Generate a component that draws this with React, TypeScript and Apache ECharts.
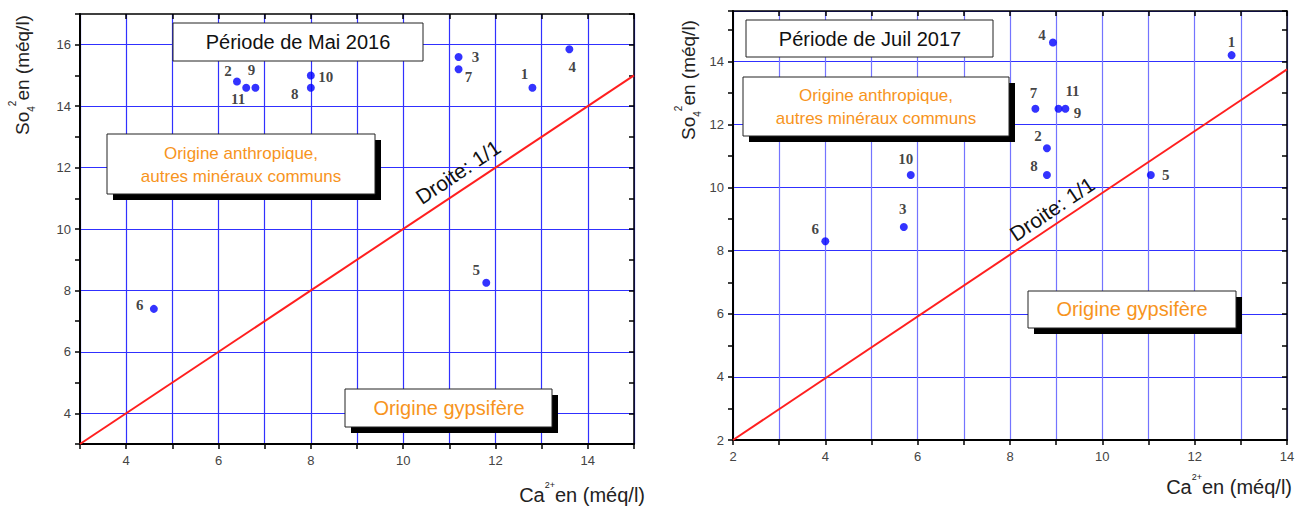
import React, { useEffect, useRef } from "react";
import * as echarts from "echarts";

// ---- data ----
const pointIds = ["1", "2", "3", "4", "5", "6", "7", "8", "9", "10", "11"];
const caMai2016 = [12.8, 6.4, 11.2, 13.6, 11.8, 4.6, 11.2, 8.0, 6.8, 8.0, 6.6];
const so4Mai2016 = [14.6, 14.8, 15.6, 15.85, 8.25, 7.4, 15.2, 14.6, 14.6, 15.0, 14.6];
const caJuil2017 = [12.8, 8.8, 5.7, 8.93, 11.05, 4.0, 8.55, 8.8, 9.2, 5.85, 9.05];
const so4Juil2017 = [14.2, 11.25, 8.75, 14.6, 10.4, 8.3, 12.5, 10.4, 12.5, 10.4, 12.5];
const droiteMai = [[3, 3], [15, 15]];
const droiteJuil = [[2, 2], [14, 13.75]];
const xRangeMai = [3, 15];
const yRangeMai = [3, 17];
const xRangeJuil = [2, 14];
const yRangeJuil = [2, 15.6];

// label placement (pixel offsets from point centres), kept apart from the data
const labelOffsetsMai = [[-8, -14], [-9, -11], [17, 0], [3, 18], [-10, -13], [-14, -4], [10, 8], [-16, 6], [-4, -18], [15, 2], [-8, 11]];
const labelOffsetsJuil = [[0, -13], [-9, -12], [-1, -18], [-11, -8], [15, 0], [-10, -12], [-2, -16], [-13, -9], [12, 4], [-5, -16], [14, -18]];

const sansFont = "Liberation Sans, Arial, Helvetica, sans-serif";
const narrowFont = "Liberation Sans Narrow, Arial Narrow, Liberation Sans, sans-serif";
const orange = "#f7941d";
const gridBlue = "#3030ff";
const gridBlueLight = "#7474ff";

const evenLabel = (v: number) => (Math.abs(v - Math.round(v)) < 1e-9 && Math.round(v) % 2 === 0 ? String(Math.round(v)) : "");

function xAxes(gridIndex: number, range: number[], splitColor: string) {
  return [
    {
      type: "value", gridIndex, position: "bottom", min: range[0], max: range[1], interval: 1,
      axisLine: { show: true, onZero: false, lineStyle: { color: "#000", width: 2 } },
      axisTick: { show: true, inside: false, length: 5, lineStyle: { color: "#000", width: 1.5 } },
      axisLabel: { formatter: evenLabel, color: "#444", fontSize: 13, fontFamily: sansFont, margin: 10, showMinLabel: true, showMaxLabel: true },
      splitLine: { show: true, lineStyle: { color: splitColor, width: 1.2 } },
    },
    {
      type: "value", gridIndex, position: "top", min: range[0], max: range[1], interval: 1,
      axisLine: { show: true, onZero: false, lineStyle: { color: "#000", width: 1.5 } },
      axisTick: { show: true, inside: true, length: 5, lineStyle: { color: "#000", width: 1.5 } },
      axisLabel: { show: false },
      splitLine: { show: false },
    },
  ];
}

function yAxes(gridIndex: number, range: number[], splitColors: string[]) {
  return [
    {
      type: "value", gridIndex, position: "left", min: range[0], max: range[1], interval: 1,
      axisLine: { show: true, onZero: false, lineStyle: { color: "#000", width: 2 } },
      axisTick: { show: true, inside: false, length: 5, lineStyle: { color: "#000", width: 1.5 } },
      axisLabel: { formatter: evenLabel, color: "#444", fontSize: 13, fontFamily: sansFont, margin: 9 },
      splitLine: { show: true, lineStyle: { color: splitColors, width: 1.2 } },
    },
    {
      type: "value", gridIndex, position: "right", min: range[0], max: range[1], interval: 1,
      axisLine: { show: true, onZero: false, lineStyle: { color: "#000", width: 1.5 } },
      axisTick: { show: true, inside: true, length: 5, lineStyle: { color: "#000", width: 1.5 } },
      axisLabel: { show: false },
      splitLine: { show: false },
    },
  ];
}

function scatterSeries(name: string, xs: number[], ys: number[], offsets: number[][], xi: number, yi: number) {
  return {
    name, type: "scatter", xAxisIndex: xi, yAxisIndex: yi, symbolSize: 8, z: 5,
    itemStyle: { color: "#0000ff" },
    data: xs.map((x, i) => ({ value: [x, ys[i]], label: { offset: offsets[i] } })),
    label: {
      show: true, position: "inside", color: "#111", fontFamily: "Liberation Serif, Times New Roman, serif",
      fontWeight: "bold", fontSize: 15,
      formatter: (p: any) => pointIds[p.dataIndex],
    },
  };
}

function lineSeries(name: string, pts: number[][], xi: number, yi: number) {
  return {
    name, type: "line", xAxisIndex: xi, yAxisIndex: yi, data: pts, symbol: "none", z: 3,
    lineStyle: { color: "#ff1f1f", width: 2 },
  };
}

function box(x: number, y: number, w: number, h: number, shadow: boolean) {
  const els: any[] = [];
  if (shadow) els.push({ type: "rect", shape: { x: x + 6, y: y + 6, width: w, height: h }, style: { fill: "#000" }, z: 10 });
  els.push({ type: "rect", shape: { x, y, width: w, height: h }, style: { fill: "#fff", stroke: "#222", lineWidth: 1 }, z: 11 });
  return els;
}

function txt(text: string, x: number, y: number, size: number, fill: string, font = sansFont, extra: any = {}) {
  return {
    type: "text", x, y, z: 12,
    style: { text, fill, fontSize: size, fontFamily: font, align: "center", verticalAlign: "middle", ...extra },
  };
}

function yTitle(x: number, y: number, size: number) {
  return {
    type: "text", x, y, rotation: Math.PI / 2, z: 12,
    style: {
      text: "{a|So}{b|4}{c|2}{a|en (méq/l)}",
      align: "center", verticalAlign: "middle", fill: "#222",
      rich: {
        a: { fontSize: size, fontFamily: sansFont, fill: "#222", lineHeight: size + 10, verticalAlign: "middle" },
        b: { fontSize: 10, fontFamily: sansFont, fill: "#222", lineHeight: 10, verticalAlign: "bottom" },
        c: { fontSize: 10, fontFamily: sansFont, fill: "#222", lineHeight: 10, verticalAlign: "top" },
      },
    },
  };
}

function xTitle(x: number, y: number, size: number) {
  return {
    type: "text", x, y, z: 12,
    style: {
      text: "{a|Ca}{c|2+}{a|en (méq/l)}",
      align: "right", verticalAlign: "middle", fill: "#222",
      rich: {
        a: { fontSize: size, fontFamily: sansFont, fill: "#222", lineHeight: size + 10, verticalAlign: "middle" },
        c: { fontSize: 9, fontFamily: sansFont, fill: "#222", lineHeight: 10, verticalAlign: "top" },
      },
    },
  };
}

export default function App() {
  const ref = useRef<HTMLDivElement>(null);
  useEffect(() => {
    if (!ref.current) return;
    const chart = echarts.init(ref.current, null, { renderer: "svg" });
    const option: any = {
      animation: false,
      backgroundColor: "#fff",
      grid: [
        { left: 80, top: 14, width: 554, height: 430, show: false },
        { left: 733, top: 11, width: 554, height: 429, show: false },
      ],
      xAxis: [...xAxes(0, xRangeMai, gridBlue), ...xAxes(1, xRangeJuil, gridBlueLight)],
      yAxis: [
        ...yAxes(0, yRangeMai, ["rgba(0,0,0,0)", gridBlue]),
        ...yAxes(1, yRangeJuil, [gridBlue, "rgba(0,0,0,0)"]),
      ],
      series: [
        lineSeries("Droite 1/1 (Mai 2016)", droiteMai, 0, 0),
        scatterSeries("Mai 2016", caMai2016, so4Mai2016, labelOffsetsMai, 0, 0),
        lineSeries("Droite 1/1 (Juil 2017)", droiteJuil, 2, 2),
        scatterSeries("Juil 2017", caJuil2017, so4Juil2017, labelOffsetsJuil, 2, 2),
      ],
      graphic: [
        // left panel
        ...box(173, 23, 250, 38, false),
        txt("Période de Mai 2016", 298, 42, 20, "#111"),
        ...box(107, 134, 268, 60, true),
        txt("Origine anthropique,\nautres minéraux communs", 241, 165, 17, orange, narrowFont, { lineHeight: 23 }),
        ...box(345, 389, 207, 38, true),
        txt("Origine gypsifère", 449, 408, 20, orange),
        { ...txt("Droite: 1/1", 458, 172, 21, "#111"), rotation: (34 * Math.PI) / 180 },
        yTitle(22, 75, 19),
        xTitle(645, 495, 20),
        // right panel
        ...box(746, 20, 247, 37, false),
        txt("Période de Juil 2017", 870, 39, 20, "#111"),
        ...box(743, 77, 266, 59, true),
        txt("Origine anthropique,\nautres minéraux communs", 876, 107, 17, orange, narrowFont, { lineHeight: 23 }),
        ...box(1028, 291, 208, 37, true),
        txt("Origine gypsifère", 1132, 309, 20, orange),
        { ...txt("Droite: 1/1", 1052, 209, 21, "#111"), rotation: (34 * Math.PI) / 180 },
        yTitle(688, 80, 19),
        xTitle(1292, 487, 20),
      ],
    };
    chart.setOption(option);
    return () => chart.dispose();
  }, []);
  return <div ref={ref} style={{ position: "fixed", left: 0, top: 0, width: 1308, height: 508 }} />;
}
